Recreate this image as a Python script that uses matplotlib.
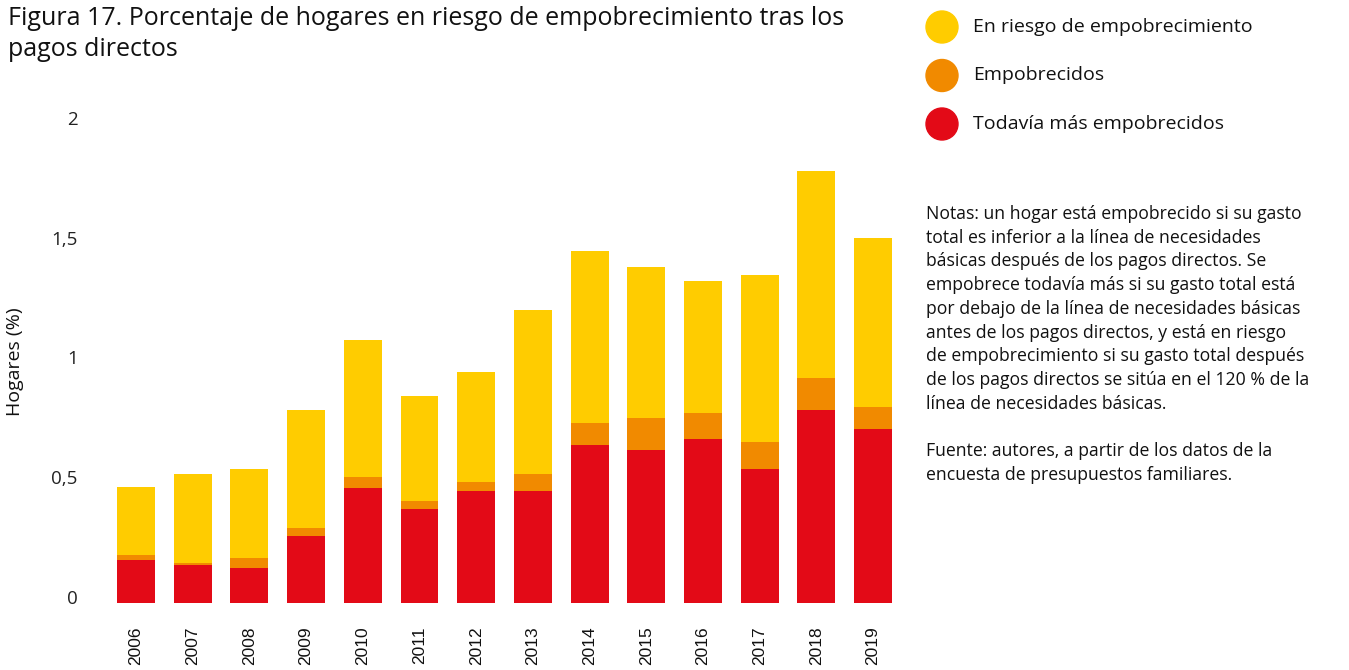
import matplotlib
matplotlib.use("Agg")
import matplotlib.pyplot as plt
import matplotlib.transforms as mtransforms
from matplotlib.patches import Ellipse
import numpy as np

# Data (percent of households)
years = ["2006", "2007", "2008", "2009", "2010", "2011", "2012",
         "2013", "2014", "2015", "2016", "2017", "2018", "2019"]
todavia_mas = [0.180, 0.159, 0.146, 0.280, 0.480, 0.392, 0.468,
               0.468, 0.660, 0.639, 0.685, 0.559, 0.806, 0.727]
empobrecidos = [0.021, 0.008, 0.042, 0.033, 0.046, 0.033, 0.038,
                0.071, 0.092, 0.134, 0.109, 0.113, 0.134, 0.092]
en_riesgo = [0.284, 0.372, 0.372, 0.493, 0.572, 0.438, 0.459,
             0.685, 0.718, 0.630, 0.551, 0.697, 0.864, 0.706]

series_labels = ["En riesgo de empobrecimiento", "Empobrecidos",
                 "Todavía más empobrecidos"]
yticks = [0, 0.5, 1, 1.5, 2]
ytick_labels = ["0", "0,5", "1", "1,5", "2"]

c_yellow = "#FFCC00"
c_orange = "#F18A00"
c_red = "#E30A17"

plt.rcParams['font.family'] = ['Open Sans', 'DejaVu Sans']

W, H = 1349, 670
fig = plt.figure(figsize=(W / 100, H / 100), dpi=100)

# axes placed in pixel coordinates
ax_left, ax_right, ax_bottom, ax_top = 100, 910, 603, 112
ax = fig.add_axes([ax_left / W, 1 - ax_bottom / H,
                   (ax_right - ax_left) / W, (ax_bottom - ax_top) / H])

x = np.arange(len(years))
red = np.array(todavia_mas)
orange = np.array(empobrecidos)
yellow = np.array(en_riesgo)
width = 0.67

ax.bar(x, red, width, color=c_red, linewidth=0)
ax.bar(x, orange, width, bottom=red, color=c_orange, linewidth=0)
ax.bar(x, yellow, width, bottom=red + orange, color=c_yellow, linewidth=0)

step = 56.7
ax.set_xlim(-(136 - ax_left) / step, (ax_right - 136) / step)
ax.set_ylim(0, (ax_bottom - ax_top) / 239.5)

for s in ax.spines.values():
    s.set_visible(False)

ax.set_yticks(yticks)
ax.set_yticklabels(ytick_labels, fontsize=13.5, color="#222222")
ax.tick_params(axis='y', length=0, pad=16)
offset = mtransforms.ScaledTranslation(0, 6 / 100, fig.dpi_scale_trans)
for lab in ax.get_yticklabels():
    lab.set_transform(lab.get_transform() + offset)

ax.set_xticks(x)
ax.set_xticklabels(years, rotation=90, fontsize=12.5, color="#111111",
                   family=['Liberation Sans', 'DejaVu Sans'])
ax.tick_params(axis='x', length=0, pad=17)

fig.text(15 / W, 1 - 362 / H, "Hogares (%)", rotation=90, fontsize=14,
         ha='center', va='center', color="#111111")

# title
fig.text(8 / W, 1 - 6 / H,
         "Figura 17. Porcentaje de hogares en riesgo de empobrecimiento tras los\npagos directos",
         fontsize=18, ha='left', va='top', linespacing=1.3,
         color="#111111")

# legend with circles
for i, (lab, col) in enumerate(zip(series_labels, [c_yellow, c_orange, c_red])):
    cy = 27 + i * 48.5
    ell = Ellipse((942 / W, 1 - cy / H), 32 / W, 32 / H, color=col,
                  transform=fig.transFigure)
    fig.patches.append(ell)
    fig.text(973 / W, 1 - cy / H, lab, fontsize=14, ha='left',
             va='center', color="#111111")

notas = ("Notas: un hogar está empobrecido si su gasto\n"
         "total es inferior a la línea de necesidades\n"
         "básicas después de los pagos directos. Se\n"
         "empobrece todavía más si su gasto total está\n"
         "por debajo de la línea de necesidades básicas\n"
         "antes de los pagos directos, y está en riesgo\n"
         "de empobrecimiento si su gasto total después\n"
         "de los pagos directos se sitúa en el 120 % de la\n"
         "línea de necesidades básicas.\n"
         "\n"
         "Fuente: autores, a partir de los datos de la\n"
         "encuesta de presupuestos familiares.")
fig.text(926 / W, 1 - 205 / H, notas, fontsize=12.7, ha='left', va='top',
         linespacing=1.41, color="#111111")

fig.savefig("out.png", dpi=100)
